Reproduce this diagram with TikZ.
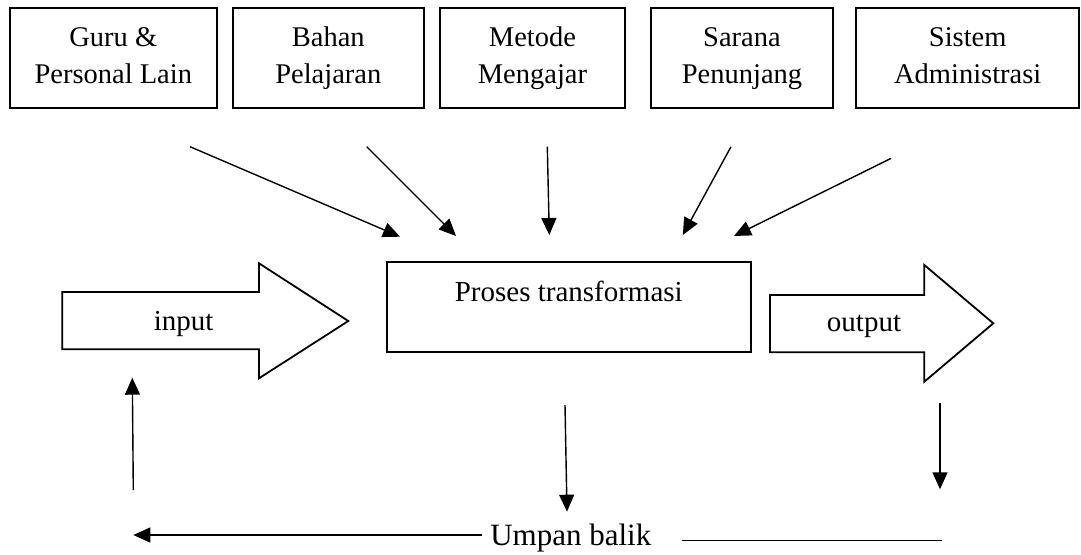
\documentclass[tikz,border=0pt]{standalone}
\usepackage{fontspec}
\setmainfont{Liberation Serif}
\usetikzlibrary{arrows.meta}
\newcommand{\lnstrut}{\rule[-10pt]{0pt}{34pt}}
\begin{document}
\begin{tikzpicture}[x=1pt,y=-1pt,
  topbox/.style={draw,line width=1.8pt,minimum height=100pt,inner sep=0pt,align=center,font=\fontsize{28.5}{37}\selectfont},
  conn/.style={line width=1.4pt,-{Triangle[length=17pt,width=15pt]}},
  plain/.style={line width=1.4pt},
  blockarrow/.style={draw,line width=1.8pt,line join=miter},
  lbl/.style={font=\fontsize{29}{34}\selectfont,anchor=base,inner sep=0pt}]
\useasboundingbox (0,0) rectangle (1081,554);

% top boxes
\node[topbox,minimum width=206.7pt] (guru)   at (113.3,58.3) {\lnstrut Guru \&\\\lnstrut Personal Lain};
\node[topbox,minimum width=191.3pt] (bahan)  at (328.3,58.3) {\lnstrut Bahan\\\lnstrut Pelajaran};
\node[topbox,minimum width=185pt]   (metode) at (532.5,58.3) {\lnstrut Metode\\\lnstrut Mengajar};
\node[topbox,minimum width=182pt]   (sarana) at (742,58.3)   {\lnstrut Sarana\\\lnstrut Penunjang};
\node[topbox,minimum width=223.3pt] (sistem) at (967.7,58.3) {\lnstrut Sistem\\\lnstrut Administrasi};

% process box
\node[draw,line width=1.8pt,minimum width=364.3pt,inner xsep=0pt,inner ysep=0pt,
      text height=39.3pt,text depth=51.3pt,font=\fontsize{29}{34}\selectfont]
      (proc) at (568.8,307) {Proses transformasi};

% input block arrow
\draw[blockarrow] (62.3,292) -- (259,292) -- (259,263.3) -- (348.3,321)
  -- (259,378.3) -- (259,349.3) -- (62.3,349.3) -- cycle;
\node[lbl] (input) at (183.7,330) {input};

% output block arrow
\draw[blockarrow] (770,295) -- (924.3,295) -- (924.3,265) -- (993.3,323.3)
  -- (924.3,381.7) -- (924.3,352.3) -- (770,352.3) -- cycle;
\node[lbl] (output) at (864,331.7) {output};

% diagonal input arrows
\coordinate (g1) at (190,146.7);   \coordinate (g2) at (400,236.7);
\coordinate (b1) at (366.7,146.7); \coordinate (b2) at (456,236);
\coordinate (m1) at (547.3,146.7); \coordinate (m2) at (549.3,235);
\coordinate (s1) at (731,146.7);   \coordinate (s2) at (682.8,235);
\coordinate (a1) at (891,158.4);   \coordinate (a2) at (734,236);
\draw[conn] (g1) -- (g2);
\draw[conn] (b1) -- (b2);
\draw[conn] (m1) -- (m2);
\draw[conn] (s1) -- (s2);
\draw[conn] (a1) -- (a2);

% feedback
\node[font=\fontsize{31}{36}\selectfont,anchor=base,inner sep=0pt] (umpan) at (570.8,545) {Umpan balik};
\coordinate (p1) at (565,405);   \coordinate (p2) at (567,511.7);
\coordinate (o1) at (940,403);   \coordinate (o2) at (940,489.3);
\coordinate (u1) at (133.3,490); \coordinate (u2) at (132.3,377.7);
\coordinate (l1) at (481.7,535); \coordinate (l2) at (133.3,535);
\coordinate (r1) at (681.7,540.7); \coordinate (r2) at (941.7,540.7);
\draw[conn] (p1) -- (p2);
\draw[conn] (o1) -- (o2);
\draw[conn] (u1) -- (u2);
\draw[conn] (l1) -- (l2);
\draw[plain] (r1) -- (r2);
\end{tikzpicture}
\end{document}
